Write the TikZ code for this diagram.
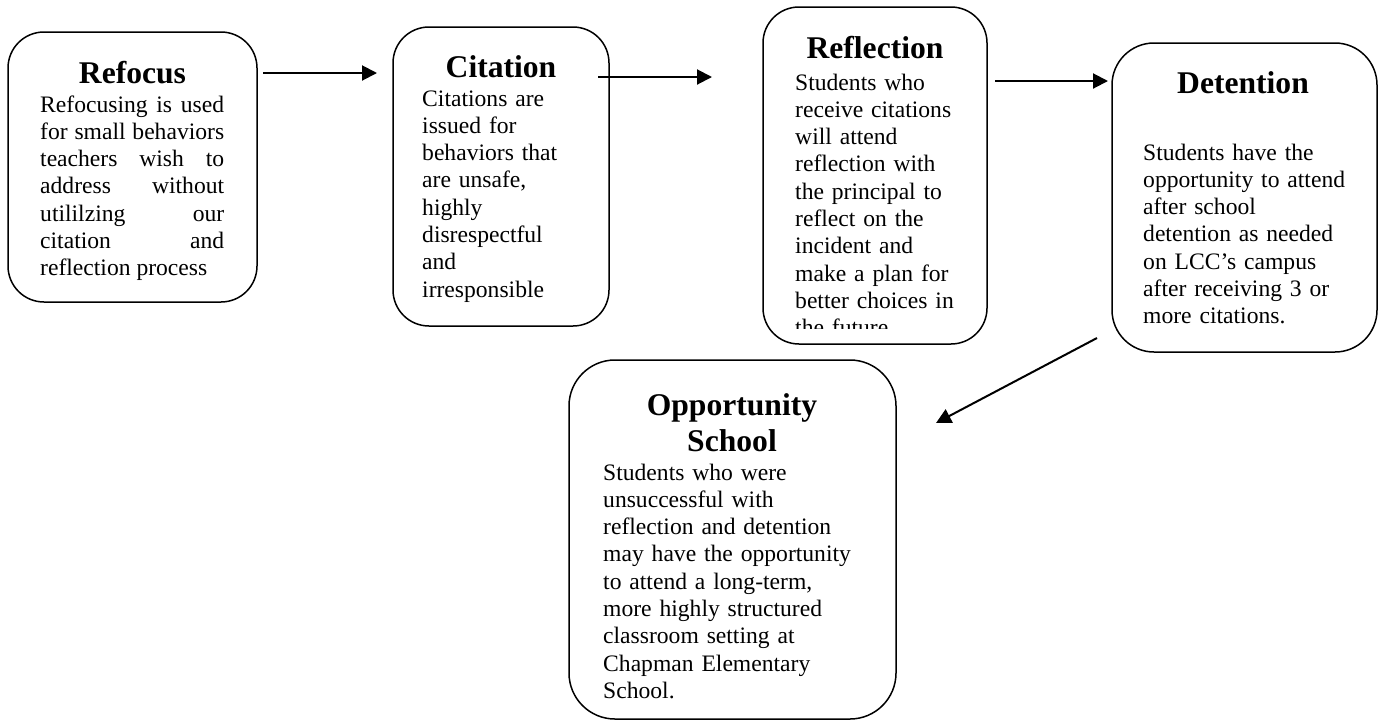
\documentclass[tikz,border=0pt]{standalone}
\usepackage{fontspec}
\setmainfont{Liberation Serif}
\usetikzlibrary{calc,arrows.meta,positioning}

\tikzset{
  stage/.style={draw, line width=1.5pt, rounded corners=36pt, inner sep=0pt, outer sep=0pt},
  heading/.style={font=\fontsize{31.6}{36.3}\selectfont\bfseries, anchor=base, inner sep=0pt, text width=320pt, align=center},
  blurb/.style={font=\fontsize{23.6}{27.3}\selectfont, anchor=base west, inner sep=0pt, text width=300pt, align=left},
  flow/.style={line width=2pt, -{Triangle[length=15pt,width=15pt]}}
}

\begin{document}
\begin{tikzpicture}[x=1pt,y=-1pt]
\useasboundingbox (0,0) rectangle (1380,721);

% the five stages
\node[stage, minimum width=249pt, minimum height=270pt] (refocus) at (132.5,167) {};
\node[stage, minimum width=216pt, minimum height=299pt] (citation) at (501,176.5) {};
\node[stage, minimum width=224pt, minimum height=337pt] (reflection) at (875,175.5) {};
\node[stage, minimum width=265pt, minimum height=309pt, rounded corners=42pt] (detention) at (1244.5,197.5) {};
\node[stage, minimum width=327pt, minimum height=359pt, rounded corners=46pt] (opportunity) at (732.5,539.5) {};

% headings
\node[heading] (refocushead) at (132.5,83) {Refocus};
\node[heading] (citationhead) at (501,77) {Citation};
\node[heading] (reflectionhead) at (875,58) {Reflection};
\node[heading] (detentionhead) at (1243,93) {Detention};
\node[heading] (opportunityhead) at (732,415) {Opportunity\\School};

% texts
\node[blurb, text width=184pt, align=justify] (refocustext) at (40,112)
  {Refocusing is used\linebreak for small behaviors\linebreak teachers wish to\linebreak
   address without\linebreak utililzing our\linebreak citation and\linebreak reflection process};
\node[blurb] (citationtext) at (422,106)
  {Citations are\\issued for\\behaviors that\\are unsafe,\\highly\\disrespectful\\and\\irresponsible};
\begin{scope}
  \clip (reflection.north west) rectangle ([yshift=16pt]reflection.south east);
  \node[blurb] (reflectiontext) at (795,90)
    {Students who\\receive citations\\will attend\\reflection with\\the principal to\\reflect on the\\incident and\\make a plan for\\better choices in\\the future.};
\end{scope}
\node[blurb] (detentiontext) at (1143,160)
  {Students have the\\opportunity to attend\\after school\\detention as needed\\on LCC's campus\\after receiving 3 or\\more citations.};
\begin{scope}
  \clip (opportunity.north west) rectangle ([yshift=19pt]opportunity.south east);
  \node[blurb] (opportunitytext) at (603,480)
    {Students who were\\unsuccessful with\\reflection and detention\\may have the opportunity\\to attend a long-term,\\more highly structured\\classroom setting at\\Chapman Elementary\\School.};
\end{scope}

% arrows
\draw[flow] ($(refocus.north east)+(6,41)$) -- ($(citation.north west)+(-16,46)$);
\draw[flow] ($(citation.north east)+(-11,50)$) -- ($(reflection.north west)+(-51,70)$);
\draw[flow] ($(reflection.north east)+(8,74)$) -- ($(detention.north west)+(-4,38)$);
\draw[flow] ($(detention.south west)+(-15,-14)$) -- ($(opportunity.north east)+(40,63)$);

\end{tikzpicture}
\end{document}
